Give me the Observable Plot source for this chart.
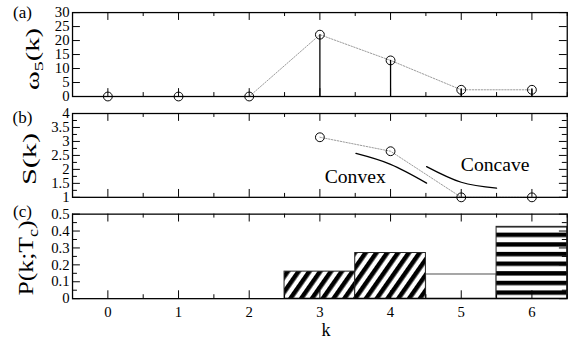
<!DOCTYPE html>
<html><head><meta charset="utf-8">
<script src="https://cdn.jsdelivr.net/npm/d3@7"></script>
<script src="https://cdn.jsdelivr.net/npm/@observablehq/plot@0.6"></script>
<style>
html,body{margin:0;padding:0;background:#fff;overflow:hidden;}
#wrap{position:relative;width:570px;height:347px;overflow:hidden;background:#fff;}
#wrap svg{position:absolute;left:0;top:0;}
</style></head><body><div id="wrap"></div>
<script>
// ---- data ----
const kValues = [0, 1, 2, 3, 4, 5, 6];
const omega5 = [0, 0, 0, 22.1, 12.9, 2.4, 2.4];
const sK = [3, 4, 5, 6];
const sValues = [3.15, 2.65, 1.0, 1.0];
const convexK = [3.51, 4.0, 4.51];
const convexS = [2.57, 2.18, 1.51];
const concaveK = [4.51, 5.0, 5.5];
const concaveS = [2.10, 1.54, 1.33];
const annotText = ["Convex", "Concave"];
const annotK = [3.50, 5.48];
const annotS = [1.50, 1.925];
const pK = [5, 3, 4, 6];
const pValues = [0.143, 0.16, 0.27, 0.425];
const pPattern = ["none", "diag", "diag", "horiz"];
const xMajor = [0, 1, 2, 3, 4, 5, 6];
const xMinor = [-0.5, 0.5, 1.5, 2.5, 3.5, 4.5, 5.5, 6.5];
const aTicks = [0, 5, 10, 15, 20, 25, 30];
const bMajor = [1, 1.5, 2, 2.5, 3, 3.5, 4];
const bMinor = [1.25, 1.75, 2.25, 2.75, 3.25, 3.75];
const cMajor = [0, 0.1, 0.2, 0.3, 0.4, 0.5];
const cMinor = [0.05, 0.15, 0.25, 0.35, 0.45];

const W = 580, H = 347, ML = 73.3, MR = 3.3;
const FONT = "'Liberation Serif','Times New Roman',serif";
const wrap = document.getElementById("wrap");

function panel(top, bottom, yDomain, yMajor, yMinor, dataMarks, showX) {
  const ph = bottom - top, pw = W - ML - MR;
  const marks = [
    ...dataMarks,
    Plot.ruleX(xMajor, {x: d => d, insetTop: ph - 8, stroke: "black", strokeWidth: 1}),
    Plot.ruleX(xMajor, {x: d => d, insetBottom: ph - 8, stroke: "black", strokeWidth: 1}),
    Plot.ruleX(xMinor, {x: d => d, insetTop: ph - 4, stroke: "black", strokeWidth: 1}),
    Plot.ruleX(xMinor, {x: d => d, insetBottom: ph - 4, stroke: "black", strokeWidth: 1}),
    Plot.ruleY(yMajor, {y: d => d, insetRight: pw - 8, stroke: "black", strokeWidth: 1}),
    Plot.ruleY(yMajor, {y: d => d, insetLeft: pw - 8, stroke: "black", strokeWidth: 1}),
    Plot.ruleY(yMinor, {y: d => d, insetRight: pw - 5, stroke: "black", strokeWidth: 1}),
    Plot.ruleY(yMinor, {y: d => d, insetLeft: pw - 5, stroke: "black", strokeWidth: 1}),
    Plot.frame({stroke: "black", strokeWidth: 1.3}),
    Plot.axisY({ticks: yMajor, tickSize: 0, tickPadding: 3, fontSize: 15, tickFormat: d => String(d), label: null})
  ];
  if (showX) marks.push(Plot.axisX({ticks: xMajor, tickSize: 0, tickPadding: 8, fontSize: 15, tickFormat: d => String(d), label: null}));
  const svg = Plot.plot({
    width: W, height: H, marginLeft: ML, marginRight: MR, marginTop: top, marginBottom: H - bottom,
    x: {domain: [-0.5, 6.5], axis: null},
    y: {domain: yDomain, axis: null},
    color: {type: "identity"},
    style: {background: "transparent", fontFamily: FONT, color: "black"},
    marks
  });
  wrap.appendChild(svg);
  return svg;
}

// (a)
const aData = kValues.map((k, i) => ({k, w: omega5[i]}));
panel(12.3, 97.7, [0, 30], aTicks, [], [
  Plot.line(aData, {x: "k", y: "w", stroke: "#999", strokeWidth: 1, strokeDasharray: "1.5,1.5"}),
  Plot.ruleX(aData, {x: "k", y1: 0, y2: "w", stroke: "black", strokeWidth: 1.3}),
  Plot.dot(aData, {x: "k", y: "w", r: 4.5, stroke: "black", strokeWidth: 1, fill: "none"})
], false);

// (b)
const bData = sK.map((k, i) => ({k, s: sValues[i]}));
const cvx = convexK.map((k, i) => ({k, s: convexS[i]}));
const ccv = concaveK.map((k, i) => ({k, s: concaveS[i]}));
const ann = annotText.map((t, i) => ({t, k: annotK[i], s: annotS[i]}));
panel(115, 200.3, [1, 4], bMajor, bMinor, [
  Plot.line(bData, {x: "k", y: "s", stroke: "#999", strokeWidth: 1, strokeDasharray: "1.5,1.5"}),
  Plot.dot(bData, {x: "k", y: "s", r: 4.5, stroke: "black", strokeWidth: 1, fill: "none"}),
  Plot.line(cvx, {x: "k", y: "s", curve: "natural", stroke: "black", strokeWidth: 1.3}),
  Plot.line(ccv, {x: "k", y: "s", curve: "natural", stroke: "black", strokeWidth: 1.3}),
  Plot.text(ann, {x: "k", y: "s", text: "t", fontSize: 20, textAnchor: "middle", lineAnchor: "bottom", fill: "black"})
], false);

// (c)
const fillFor = {none: "none", diag: "url(#diag)", horiz: "url(#horiz)"};
const strokeFor = {none: "#888", diag: "#222", horiz: "#222"};
const cData = pK.map((k, i) => ({k, p: pValues[i], pat: pPattern[i]}));
const svgC = panel(217.4, 303.4, [0, 0.5], cMajor, cMinor, [
  Plot.rectY(cData, {x1: d => d.k - 0.5, x2: d => d.k + 0.5, y1: 0, y2: "p",
    fill: d => fillFor[d.pat], stroke: d => strokeFor[d.pat], strokeWidth: d => d.pat === "none" ? 1.5 : 1})
], true);

// patterns
d3.select(svgC).insert("defs", ":first-child").html(`
  <pattern id="diag" patternUnits="userSpaceOnUse" width="9" height="9" patternTransform="rotate(35)">
    <rect width="9" height="9" fill="white"/><rect width="4.6" height="9" fill="black"/>
  </pattern>
  <pattern id="horiz" patternUnits="userSpaceOnUse" x="0" y="236.7" width="10" height="9.8">
    <rect width="10" height="9.8" fill="white"/><rect width="10" height="4.5" fill="black"/>
  </pattern>`);

// overlay texts
const ov = d3.select(wrap).append("svg").attr("width", W).attr("height", H)
  .style("font-family", FONT).style("overflow", "visible");
const panelLabels = ["(a)", "(b)", "(c)"];
const labelY = [17.5, 122.5, 217];
panelLabels.forEach((t, i) => ov.append("text").attr("x", 22.5).attr("y", labelY[i])
  .attr("text-anchor", "middle").attr("font-size", 17).text(t));

function rotTitle(cx, cy, size, target, parts) {
  const t = ov.append("text").attr("font-size", size).attr("text-anchor", "middle");
  parts.forEach(p => {
    const ts = t.append("tspan").text(p.s);
    if (p.sub) ts.attr("font-size", size * 0.7).attr("dy", size * 0.22);
    if (p.back) ts.attr("dy", -size * 0.22);
  });
  const L = t.node().getComputedTextLength() || target;
  t.attr("transform", `translate(${cx},${cy}) rotate(-90) scale(${target / L},1)`);
}
rotTitle(38.5, 59, 19, 62, [{s: "ω"}, {s: "5", sub: true}, {s: "(k)", back: true}]);
rotTitle(35.5, 159, 19, 52, [{s: "S(k)"}]);
rotTitle(33, 258, 21, 75, [{s: "P(k;T"}, {s: "c", sub: true}, {s: ")", back: true}]);

ov.append("text").attr("x", 326).attr("y", 336).attr("text-anchor", "middle").attr("font-size", 18).text("k");
</script>
</body></html>
